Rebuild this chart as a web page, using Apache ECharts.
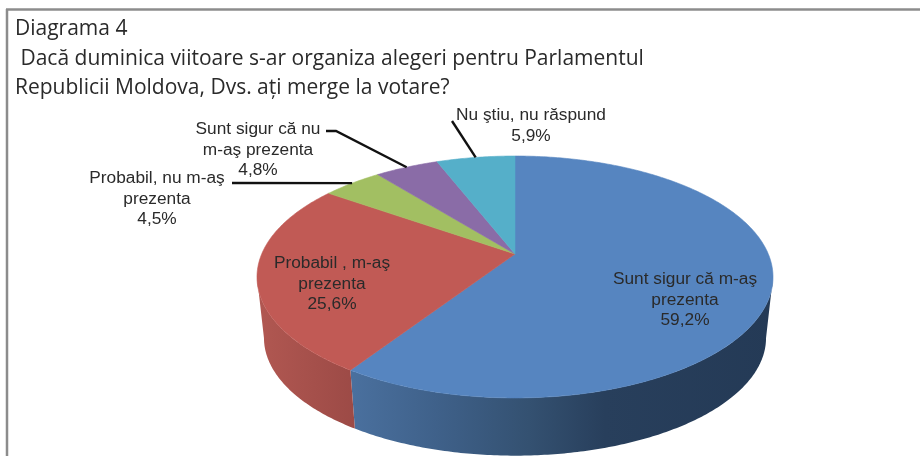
<!DOCTYPE html>
<html><head><meta charset="utf-8">
<style>html,body{margin:0;padding:0;background:#fff}#c{width:920px;height:456px}</style>
<script src="https://cdn.jsdelivr.net/npm/echarts@6/dist/echarts.min.js"></script>
</head><body><div id="c"></div>
<script>
const titleLines = ['Diagrama 4', ' Dacă duminica viitoare s-ar organiza alegeri pentru Parlamentul', 'Republicii Moldova, Dvs. ați merge la votare?'];
const categories = ['Sunt sigur că m-aş prezenta', 'Probabil , m-aş prezenta', 'Probabil, nu m-aş prezenta', 'Sunt sigur că nu m-aş prezenta', 'Nu ştiu, nu răspund'];
const values = [59.2, 25.6, 4.5, 4.8, 5.9];
const valueLabels = ['59,2%', '25,6%', '4,5%', '4,8%', '5,9%'];
const labelLines = [
  ['Sunt sigur că m-aş', 'prezenta'],
  ['Probabil , m-aş', 'prezenta'],
  ['Probabil, nu m-aş', 'prezenta'],
  ['Sunt sigur că nu', 'm-aş prezenta'],
  ['Nu ştiu, nu răspund']
];
const topColors = ['#5685c0', '#c15a55', '#a2bf62', '#8a6ca7', '#55afc9'];

// layout of the projected pie
const CX = 515, APEX_Y = 254, R = 253.3, S = 116.6, K = 0.19, LOWER = 0.973, LOWER_DY = 61.6;
const labelPos = [[685, 279], [332, 263], [157, 178], [258, 129], [531, 115]];
const labelLH = 20.8;
const leaderStart = [null, null, [[232, 183]], [[326, 131], [336, 131]], [[452, 121]]];

const total = values.reduce((a, b) => a + b, 0);
const cum = [0];
values.forEach(v => cum.push(cum[cum.length - 1] + v));
const ang = v => v / total * Math.PI * 2;
// angles of the two silhouette points of the projected rim
const FRONT_A = Math.acos(-K), FRONT_B = Math.PI * 2 - FRONT_A;

function rim(th, lower) {
  const u = Math.sin(th), v = -Math.cos(th), w = 1 - K * v;
  const f = lower ? LOWER : 1;
  return [CX + f * R * u / w, APEX_Y + (lower ? LOWER_DY : 0) + f * S * v / w];
}
function arc(a, b, lower) {
  const n = Math.max(2, Math.ceil((b - a) * 90)), pts = [];
  for (let i = 0; i <= n; i++) pts.push(rim(a + (b - a) * i / n, lower));
  return pts;
}
const G = echarts.graphic.LinearGradient;
const wallFill = [
  new G(352, 0, 773, 0, [
    {offset: 0, color: '#4a709e'}, {offset: .2, color: '#3f618a'}, {offset: .42, color: '#345171'},
    {offset: .6, color: '#283f5c'}, {offset: 1, color: '#243a56'}], true),
  new G(262, 0, 356, 0, [{offset: 0, color: '#b05751'}, {offset: 1, color: '#9c4a46'}], true),
  '#7a9047', '#67507f', '#3f8296'
];

function wallItem(params) {
  const i = params.dataIndex;
  const a = Math.max(ang(cum[i]), FRONT_A), b = Math.min(ang(cum[i + 1]), FRONT_B);
  if (b <= a) return null;
  const pts = arc(a, b, false).concat(arc(a, b, true).reverse());
  return {type: 'polygon', shape: {points: pts}, style: {fill: wallFill[i], stroke: null}, silent: true};
}
function topItem(params) {
  const i = params.dataIndex, a = ang(cum[i]), b = ang(cum[i + 1]);
  const pts = [[CX, APEX_Y]].concat(arc(a, b, false));
  return {type: 'polygon', shape: {points: pts}, style: {fill: topColors[i], stroke: topColors[i], lineWidth: .6}, silent: true};
}
function labelItem(params) {
  const i = params.dataIndex, kids = [];
  const lines = labelLines[i].concat(valueLabels[i]);
  lines.forEach((t, k) => kids.push({
    type: 'text',
    style: {text: t, x: labelPos[i][0], y: labelPos[i][1] + k * labelLH, align: 'center', verticalAlign: 'middle',
            fill: '#2a2a2a', font: '17.3px "Liberation Sans", Arial, sans-serif'}
  }));
  if (leaderStart[i]) {
    const mid = rim((ang(cum[i]) + ang(cum[i + 1])) / 2, false);
    kids.push({type: 'polyline', shape: {points: leaderStart[i].concat([mid])},
               style: {fill: null, stroke: '#111', lineWidth: 2.4}});
  }
  return {type: 'group', children: kids, silent: true};
}
const seriesData = categories.map((n, i) => ({name: n, value: values[i]}));

const chart = echarts.init(document.getElementById('c'), null, {renderer: 'canvas'});
chart.setOption({
  animation: false,
  backgroundColor: '#fff',
  title: {
    text: titleLines.join('\n'), left: 10, top: 9.5,
    textStyle: {fontFamily: '"Open Sans", sans-serif', fontSize: 21, fontWeight: 'normal', color: '#2a2a2a', lineHeight: 29.5}
  },
  graphic: [
    {type: 'line', shape: {x1: 6, y1: 9.5, x2: 920, y2: 9.5}, style: {stroke: '#8c8c8c', lineWidth: 2.5}, silent: true},
    {type: 'line', shape: {x1: 7, y1: 9, x2: 7, y2: 456}, style: {stroke: '#8c8c8c', lineWidth: 2.5}, silent: true}
  ],
  series: [
    {type: 'custom', coordinateSystem: 'none', z: 1, data: seriesData, renderItem: wallItem},
    {type: 'custom', coordinateSystem: 'none', z: 2, data: seriesData, renderItem: topItem},
    {type: 'custom', coordinateSystem: 'none', z: 3, data: seriesData, renderItem: labelItem}
  ]
});
</script></body></html>
